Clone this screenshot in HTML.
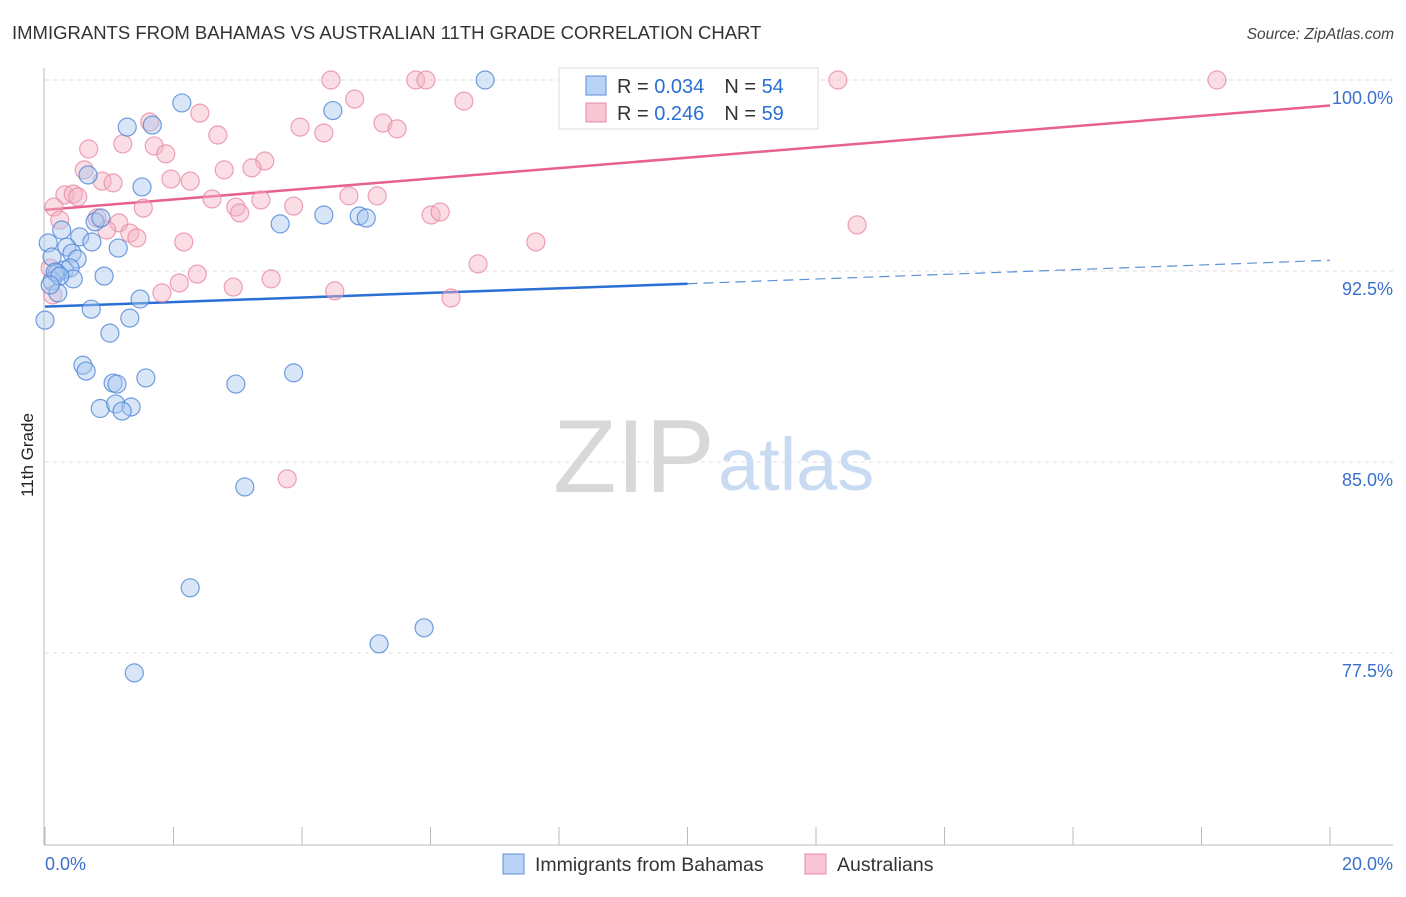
<!DOCTYPE html>
<html><head><meta charset="utf-8"><style>
body{margin:0;background:#fff;font-family:"Liberation Sans",sans-serif}
svg text{font-family:"Liberation Sans",sans-serif}
</style></head><body>
<svg width="1406" height="892" viewBox="0 0 1406 892" xmlns="http://www.w3.org/2000/svg" id="chart">
<text x="12" y="39" font-size="18.5" fill="#333">IMMIGRANTS FROM BAHAMAS VS AUSTRALIAN 11TH GRADE CORRELATION CHART</text>
<text x="1394" y="39" font-size="15.5" fill="#444" text-anchor="end" font-style="italic">Source: ZipAtlas.com</text>
<text transform="translate(33,455) rotate(-90)" font-size="17" fill="#222" text-anchor="middle">11th Grade</text>
<g>
<text x="553" y="492" font-size="104" fill="#d8d8d8" font-family="Liberation Serif,serif">ZIP</text>
<text x="718" y="490" font-size="74" fill="#c9dbf2">atlas</text>
</g>
<g id="grid"></g>
<g id="axes"></g>
<g id="trends"></g>
<g id="points"></g>
<g>
<rect x="559" y="68" width="259" height="61" fill="#fff" stroke="#ddd"/>
<rect x="586" y="76" width="20" height="19" fill="#b8d3f5" stroke="#5b8fd8"/>
<text x="617" y="93" font-size="20" fill="#333">R = <tspan fill="#2a6fd4">0.034</tspan><tspan dx="20">N = </tspan><tspan fill="#2a6fd4">54</tspan></text>
<rect x="586" y="103" width="20" height="19" fill="#f8c6d4" stroke="#e88aa5"/>
<text x="617" y="120" font-size="20" fill="#333">R = <tspan fill="#2a6fd4">0.246</tspan><tspan dx="20">N = </tspan><tspan fill="#2a6fd4">59</tspan></text>
</g>
<g>
<rect x="503" y="854" width="21" height="20" fill="#b8d3f5" stroke="#5b8fd8"/>
<text x="535" y="871" font-size="19.5" fill="#333">Immigrants from Bahamas</text>
<rect x="805" y="854" width="21" height="20" fill="#f8c6d4" stroke="#e88aa5"/>
<text x="837" y="871" font-size="19.5" fill="#333">Australians</text>
</g>
</svg>
<script>
const xTicks=[0,2,4,6,8,10,12,14,16,18,20];
const yTicks=[100,92.5,85,77.5];
const yTickLabels=["100.0%","92.5%","85.0%","77.5%"];
const blueX=[6.85,2.13,4.48,1.28,1.67,0.67,1.51,0.78,0.87,3.66,4.34,4.89,5.0,0.05,0.26,0.54,0.34,0.73,1.14,0.42,0.50,0.11,0.30,0.19,0.39,0.44,0.92,0.11,0.20,1.48,0.72,1.32,0.0,1.01,0.59,0.64,1.06,1.12,1.57,2.97,3.87,0.86,1.10,1.34,1.20,3.11,2.26,5.90,5.20,1.39,0.16,0.23,0.08];
const blueY=[100.0,99.1,98.8,98.15,98.23,96.27,95.8,94.43,94.58,94.35,94.7,94.66,94.58,93.6,94.11,93.84,93.44,93.64,93.4,93.2,92.97,93.05,92.54,92.42,92.62,92.19,92.3,92.11,91.64,91.4,91.0,90.65,90.57,90.06,88.8,88.57,88.1,88.06,88.3,88.06,88.5,87.1,87.28,87.16,87.0,84.02,80.06,78.49,77.86,76.72,92.46,92.3,91.95];
const pinkX=[4.45,5.77,5.93,12.34,18.24,4.82,6.52,2.41,1.63,2.69,3.97,4.34,5.26,5.48,0.68,1.21,1.70,1.88,0.61,3.42,3.22,2.79,0.89,1.06,2.26,1.96,0.31,0.44,0.51,2.60,3.36,4.73,5.17,0.14,1.53,2.97,3.03,3.87,6.01,6.15,0.23,0.81,1.15,0.96,1.32,1.43,2.16,7.64,12.64,6.74,0.08,2.37,2.09,1.82,2.93,3.52,4.51,6.32,3.77,0.12];
const pinkY=[100,100,100,100,100,99.25,99.17,98.7,98.35,97.84,98.15,97.92,98.31,98.08,97.29,97.49,97.41,97.1,96.47,96.82,96.55,96.47,96.03,95.96,96.03,96.11,95.49,95.52,95.41,95.33,95.29,95.45,95.45,95.01,94.97,95.01,94.78,95.05,94.7,94.82,94.5,94.58,94.39,94.11,93.99,93.8,93.64,93.64,94.31,92.78,92.62,92.38,92.03,91.64,91.87,92.19,91.72,91.44,84.34,91.56];
const blueTrend=[91.1,92.0,92.92];
const pinkTrend=[94.9,99.0];
const NS="http://www.w3.org/2000/svg";
const X=v=>45+v*(1285/20);
const Y=v=>80+(100-v)*(191/7.5);
function mk(tag,attrs,parent){const e=document.createElementNS(NS,tag);for(const k in attrs)e.setAttribute(k,attrs[k]);document.getElementById(parent).appendChild(e);return e;}
yTicks.forEach((t,i)=>{
 const g=mk('line',{x1:45,x2:1393,y1:Y(t),y2:Y(t),stroke:'#ddd','stroke-dasharray':'4,4'},'grid');
 
 
 const l=mk('text',{x:1393,y:Y(t)+24,'font-size':18,fill:'#3a70cc','text-anchor':'end'},'grid');
 l.textContent=yTickLabels[i];
 
 
});
const ax=mk('line',{x1:44,x2:44,y1:68,y2:845,stroke:'#bbb'},'axes');


const bx=mk('line',{x1:44,x2:1393,y1:845,y2:845,stroke:'#bbb'},'axes');


xTicks.forEach(t=>{
 const tk=mk('line',{x1:X(t),x2:X(t),y1:827,y2:845,stroke:'#bbb'},'axes');
 
 
});
const x0=mk('text',{x:45,y:870,'font-size':18,fill:'#3a70cc'},'axes');x0.textContent='0.0%';


const x1=mk('text',{x:1393,y:870,'font-size':18,fill:'#3a70cc','text-anchor':'end'},'axes');x1.textContent='20.0%';


function dot(x,y,fill,stroke,name){const c=mk('circle',{cx:X(x),cy:Y(y),r:9,fill:fill,'fill-opacity':0.45,stroke:stroke,'stroke-opacity':0.8,'stroke-width':1.2},'points');
 
 }
pinkX.forEach((x,i)=>dot(x,pinkY[i],'#f5b3c6','#e88aa5','australians-point'));
blueX.forEach((x,i)=>dot(x,blueY[i],'#a9c8f0','#4f86d6','bahamas-point'));
const pl=mk('line',{x1:X(0),y1:Y(pinkTrend[0]),x2:X(20),y2:Y(pinkTrend[1]),stroke:'#e8608f','stroke-width':2.5},'trends');


const bl=mk('line',{x1:X(0),y1:Y(blueTrend[0]),x2:X(10),y2:Y(blueTrend[1]),stroke:'#2a6fd4','stroke-width':2.5},'trends');


const bd=mk('line',{x1:X(10),y1:Y(blueTrend[1]),x2:X(20),y2:Y(blueTrend[2]),stroke:'#5b8fd8','stroke-width':1.2,'stroke-dasharray':'10,6'},'trends');


</script>
</body></html>
